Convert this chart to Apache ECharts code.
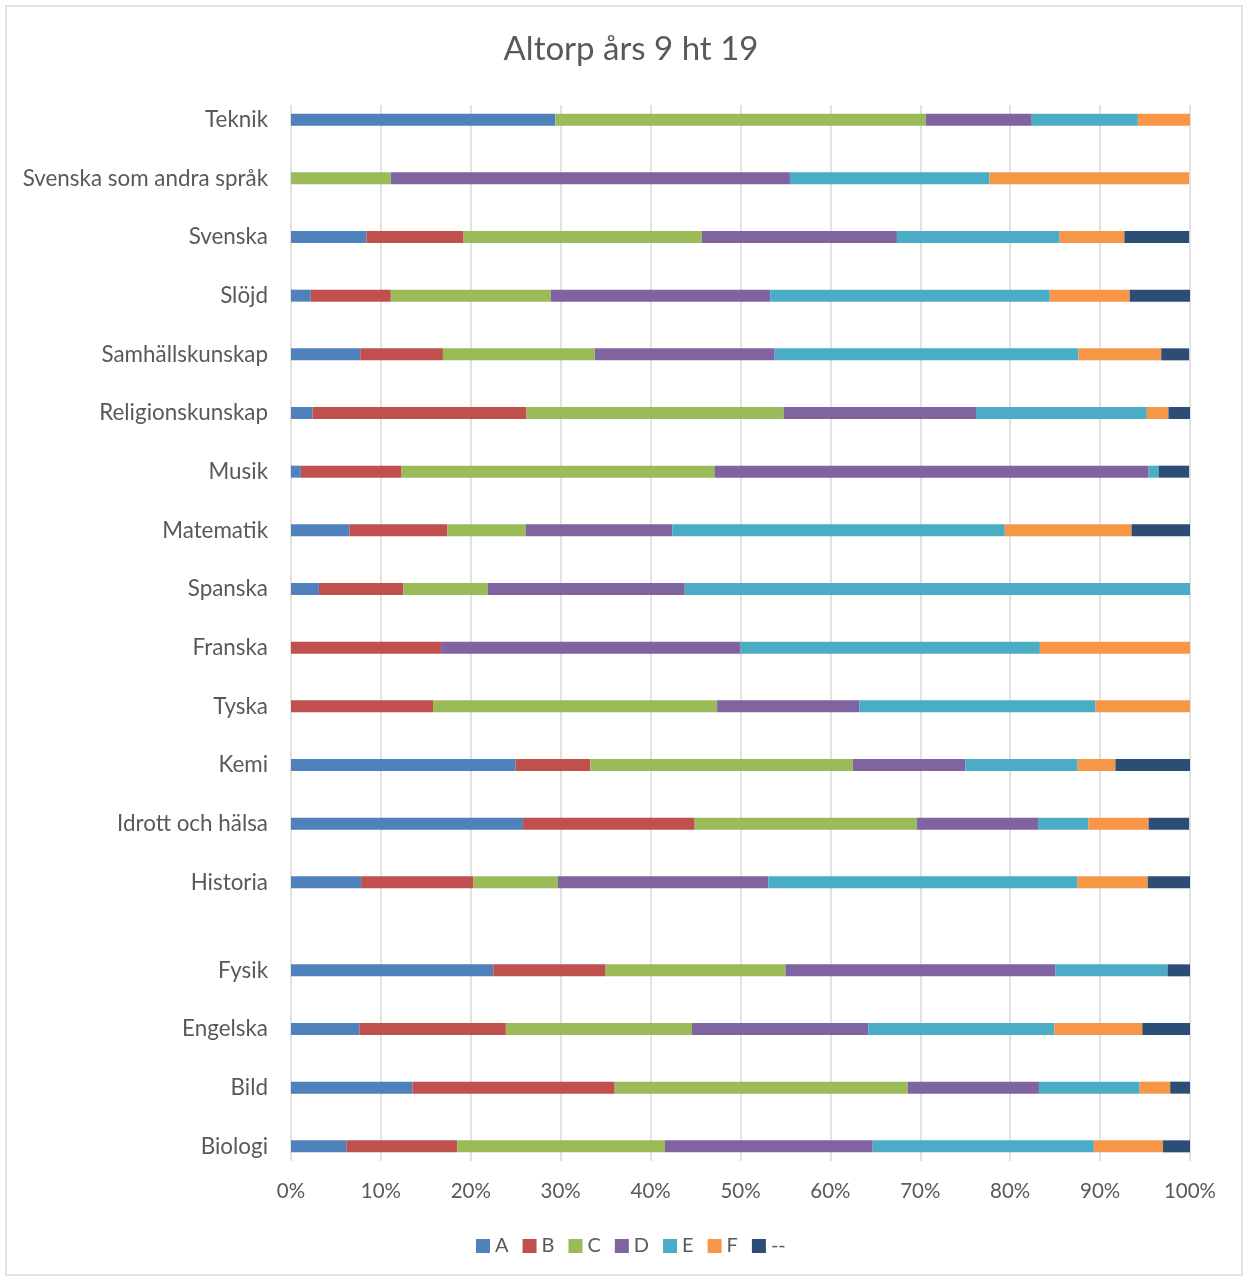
<!DOCTYPE html>
<html>
<head>
<meta charset="utf-8">
<script src="https://cdn.jsdelivr.net/npm/echarts@6/dist/echarts.min.js"></script>
<style>
  html, body { margin: 0; padding: 0; background: #fff; }
  #chart { width: 1243px; height: 1277px; }
</style>
</head>
<body>
<div id="chart"></div>
<script>
// Subjects, top to bottom as shown in the chart
const subjects = ['Teknik', 'Svenska som andra språk', 'Svenska', 'Slöjd', 'Samhällskunskap',
  'Religionskunskap', 'Musik', 'Matematik', 'Spanska', 'Franska', 'Tyska', 'Kemi',
  'Idrott och hälsa', 'Historia', 'Fysik', 'Engelska', 'Bild', 'Biologi'];

const gradeNames = ['A', 'B', 'C', 'D', 'E', 'F', '--'];

// Share of pupils (%) per grade, same order as subjects
const gradeA  = [29.4, 0,    8.4,  2.2,  7.7,  2.4,  1.1,  6.5,  3.1,  0,    0,    25.0, 25.8, 7.8,  22.5, 7.6,  13.5, 6.2];
const gradeB  = [0,    0,    10.8, 8.9,  9.2,  23.8, 11.2, 10.9, 9.4,  16.7, 15.8, 8.3,  19.1, 12.5, 12.5, 16.3, 22.5, 12.3];
const gradeC  = [41.2, 11.1, 26.5, 17.8, 16.9, 28.6, 34.8, 8.7,  9.4,  0,    31.6, 29.2, 24.7, 9.4,  20.0, 20.7, 32.6, 23.1];
const gradeD  = [11.8, 44.4, 21.7, 24.4, 20.0, 21.4, 48.3, 16.3, 21.9, 33.3, 15.8, 12.5, 13.5, 23.4, 30.0, 19.6, 14.6, 23.1];
const gradeE  = [11.8, 22.2, 18.1, 31.1, 33.8, 19.0, 1.1,  37.0, 56.2, 33.3, 26.3, 12.5, 5.6,  34.4, 12.5, 20.7, 11.2, 24.6];
const gradeF  = [5.9,  22.2, 7.2,  8.9,  9.2,  2.4,  0,    14.1, 0,    16.7, 10.5, 4.2,  6.7,  7.8,  0,    9.8,  3.4,  7.7];
const gradeNo = [0,    0,    7.2,  6.7,  3.1,  2.4,  3.4,  6.5,  0,    0,    0,    8.3,  4.5,  4.7,  2.5,  5.4,  2.2,  3.1];

const gradeValues = [gradeA, gradeB, gradeC, gradeD, gradeE, gradeF, gradeNo];
const colors = ['#4F81BD', '#C0504D', '#9BBB59', '#8064A2', '#4BACC6', '#F79646', '#2C4D75'];

// The source sheet has empty rows between the subjects (two after Historia)
const emptyRowsAfter = { 'Historia': 2 };
const rows = [];
subjects.forEach((s, i) => {
  rows.push(i);
  if (i < subjects.length - 1) {
    const n = emptyRowsAfter[s] || 1;
    for (let k = 0; k < n; k++) rows.push(-1);
  }
});
const categoryLabels = rows.map(i => (i < 0 ? '' : subjects[i]));

const FONT = 'Lato, "Open Sans", sans-serif';
const TXT = '#595959';

const series = gradeNames.map((g, gi) => ({
  name: g,
  type: 'bar',
  stack: 'total',
  barWidth: 12,
  itemStyle: { color: colors[gi] },
  emphasis: { disabled: true },
  data: rows.map(i => (i < 0 ? null : (gradeValues[gi][i] === 0 ? null : gradeValues[gi][i])))
}));

const chart = echarts.init(document.getElementById('chart'), null, { renderer: 'canvas' });
chart.setOption({
  animation: false,
  backgroundColor: '#fff',
  textStyle: { fontFamily: FONT },
  title: {
    text: 'Altorp års 9 ht 19',
    left: 626,
    textAlign: 'center',
    top: 28,
    textStyle: { fontFamily: FONT, fontSize: 33, fontWeight: 'normal', color: TXT }
  },
  legend: {
    data: gradeNames,
    left: 471,
    top: 1231,
    icon: 'rect',
    itemWidth: 14,
    itemHeight: 14,
    itemGap: 14,
    textStyle: { fontFamily: FONT, fontSize: 20, color: TXT }
  },
  grid: { left: 291, right: 53, top: 105, bottom: 116, containLabel: false },
  xAxis: {
    type: 'value',
    min: 0,
    max: 100,
    interval: 10,
    axisLine: { show: false },
    axisTick: { show: false },
    axisLabel: { formatter: '{value}%', fontFamily: FONT, fontSize: 20.5, color: TXT, margin: 20 },
    splitLine: { show: true, lineStyle: { color: '#D9D9D9', width: 1.5 } }
  },
  yAxis: {
    type: 'category',
    inverse: true,
    data: categoryLabels,
    axisLine: { show: false },
    axisTick: { show: false },
    axisLabel: { interval: 0, fontFamily: FONT, fontSize: 22.4, color: TXT, margin: 23 }
  },
  graphic: [{
    type: 'rect',
    shape: { x: 6, y: 6, width: 1236, height: 1269 },
    style: { fill: 'none', stroke: '#D9D9D9', lineWidth: 1.5 },
    silent: true
  }],
  series: series
});
</script>
</body>
</html>
